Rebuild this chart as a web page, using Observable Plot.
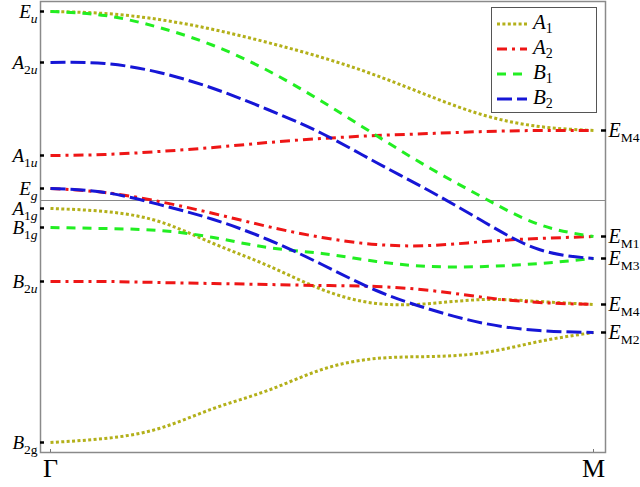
<!DOCTYPE html>
<html>
<head>
<meta charset="utf-8">
<script src="https://cdn.jsdelivr.net/npm/d3@7"></script>
<script src="https://cdn.jsdelivr.net/npm/@observablehq/plot@0.6"></script>
<style>
  html, body { margin: 0; padding: 0; background: #fff; }
  #wrap { position: relative; width: 640px; height: 487px; }
  #wrap svg text { font-family: "Liberation Serif", "Times New Roman", "DejaVu Serif", serif !important; }
  #legend { position: absolute; left: 491px; top: 7px; width: 104px; height: 104px;
            border: 1px solid #555; background: #fff; font-family: "Liberation Serif", serif; }
  .row { position: absolute; left: 5px; height: 24px; display: flex; align-items: center; }
  .row svg { margin-right: 6px; }
  .lab { font-size: 21px; font-style: italic; line-height: 1; font-family: "Liberation Serif", serif; }
  .lab sub { font-size: 14px; font-style: normal; vertical-align: -4px; }
</style>
</head>
<body>
<div id="wrap"><div id="legend"></div></div>
<script>
// ---- data (energies, arbitrary units, larger = lower) ----
const kPoints = [0, 0.1, 0.2, 0.3, 0.4, 0.5, 0.6, 0.7, 0.8, 0.9, 1.0];
const kLabels = ["Γ", "M"];

const bandA1a = [11, 13, 19, 29, 42, 57, 75, 96, 115, 126, 130];
const bandA1b = [208, 211, 221, 243, 265, 289, 303, 303, 299, 301, 304];
const bandA1c = [442, 438, 428, 408, 390, 369, 358, 356, 352, 341, 332];

const bandA2a = [155, 154, 151, 147, 142, 138, 135, 133, 131, 130, 130];
const bandA2b = [188, 192, 201, 213, 226, 237, 244, 245, 241, 238, 236];
const bandA2c = [281, 281, 282, 283, 284, 285, 286, 290, 297, 302, 304];

const bandB1a = [11, 15, 27, 45, 70, 101, 135, 168, 198, 224, 236];
const bandB1b = [227, 228, 230, 237, 247, 253, 261, 266, 266, 263, 258];

const bandB2a = [62, 63, 72, 88, 109, 133, 162, 191, 222, 249, 258];
const bandB2b = [188, 192, 204, 219, 239, 264, 290, 309, 323, 330, 332];

const leftLevels = [11, 62, 155, 188, 208, 227, 281, 442];
const leftLabels = ["E_u", "A_2u", "A_1u", "E_g", "A_1g", "B_1g", "B_2u", "B_2g"];
const rightLevels = [130, 236, 258, 304, 332];
const rightLabels = ["E_M4", "E_M1", "E_M3", "E_M4", "E_M2"];
const gapLevel = [200];

const irreps = ["A1", "A2", "B1", "B2"];
const bands = [
  ["A1", bandA1a], ["A1", bandA1b], ["A1", bandA1c],
  ["A2", bandA2a], ["A2", bandA2b], ["A2", bandA2c],
  ["B1", bandB1a], ["B1", bandB1b],
  ["B2", bandB2a], ["B2", bandB2b]
];

// ---- styles ----
const styles = {
  A1: {stroke: "#b3b01a", dash: "3,2.4"},
  A2: {stroke: "#ee1616", dash: "10,5,3,5"},
  B1: {stroke: "#22ee22", dash: "9,7"},
  B2: {stroke: "#1616d6", dash: "15,5"}
};
const uprightSubs = new Set(["B_2g", "E_M4", "E_M1", "E_M3", "E_M2"]);
const FONT = '"Liberation Serif", "Times New Roman", "DejaVu Serif", serif';

const rows = [];
bands.forEach(([irr, vals], b) => vals.forEach((E, i) => rows.push({k: kPoints[i], E, band: b, irr})));

const leftMap = new Map(leftLevels.map((v, i) => [v, leftLabels[i]]));
const rightMap = new Map(rightLevels.map((v, i) => [v, rightLabels[i]]));

const lineMarks = bands.map(([irr], b) =>
  Plot.line(rows.filter(r => r.band === b), {
    x: "k", y: "E", stroke: styles[irr].stroke, strokeWidth: 3,
    strokeDasharray: styles[irr].dash, strokeLinecap: "butt", curve: "natural"
  })
);

const chart = Plot.plot({
  width: 640, height: 487,
  marginLeft: 40, marginRight: 35, marginTop: 1, marginBottom: 35,
  style: {fontFamily: FONT, fontSize: "20px", background: "white", overflow: "visible"},
  x: {domain: [-10 / 543, 1 + 12 / 543], label: null},
  y: {domain: [452, 1], label: null},
  marks: [
    Plot.ruleY(gapLevel, {stroke: "#8a8a8a", strokeWidth: 1.2}),
    ...lineMarks,
    Plot.frame({stroke: "#8a8a8a", strokeWidth: 1.5}),
    Plot.axisY(leftLevels, {anchor: "left", tickSize: -4, tickPadding: 7, stroke: "black", strokeWidth: 2.5,
      tickFormat: d => leftMap.get(d), fontSize: 19, fill: "black", fontFamily: FONT}),
    Plot.axisY(rightLevels, {anchor: "right", tickSize: -5, tickPadding: 8, stroke: "black", strokeWidth: 2.5,
      tickFormat: d => rightMap.get(d), fontSize: 20, fill: "black", fontFamily: FONT}),
    Plot.axisX([0, 1], {anchor: "bottom", tickSize: -3, tickPadding: 9, stroke: "#777", strokeWidth: 1,
      tickFormat: d => kLabels[d], fontSize: 26, fill: "black", fontFamily: FONT})
  ]
});

// rich subscript labels
const SVGNS = "http://www.w3.org/2000/svg";
chart.querySelectorAll("text").forEach(t => {
  t.setAttribute("font-family", FONT);
  const s = t.textContent;
  if (!s.includes("_")) return;
  const [main, sub] = s.split("_");
  t.textContent = "";
  const m = document.createElementNS(SVGNS, "tspan");
  m.setAttribute("font-style", "italic");
  m.textContent = main;
  t.appendChild(m);
  const upright = uprightSubs.has(s);
  let first = true;
  for (const ch of sub) {
    const sp = document.createElementNS(SVGNS, "tspan");
    sp.setAttribute("font-size", "13.5");
    if (first) { sp.setAttribute("dy", "5"); first = false; }
    sp.setAttribute("font-style", (upright || /[0-9]/.test(ch)) ? "normal" : "italic");
    sp.textContent = ch;
    t.appendChild(sp);
  }
});

document.getElementById("wrap").prepend(chart);

// legend
const legend = document.getElementById("legend");
const legendLabels = {A1: ["A", "1"], A2: ["A", "2"], B1: ["B", "1"], B2: ["B", "2"]};
irreps.forEach((irr, i) => {
  const row = document.createElement("div");
  row.className = "row";
  row.style.top = (4 + i * 25) + "px";
  row.innerHTML = `<svg width="30" height="10"><line x1="0" x2="30" y1="5" y2="5" stroke="${styles[irr].stroke}" stroke-width="3" stroke-dasharray="${styles[irr].dash}"/></svg><span class="lab">${legendLabels[irr][0]}<sub>${legendLabels[irr][1]}</sub></span>`;
  legend.appendChild(row);
});
</script>
</body>
</html>
